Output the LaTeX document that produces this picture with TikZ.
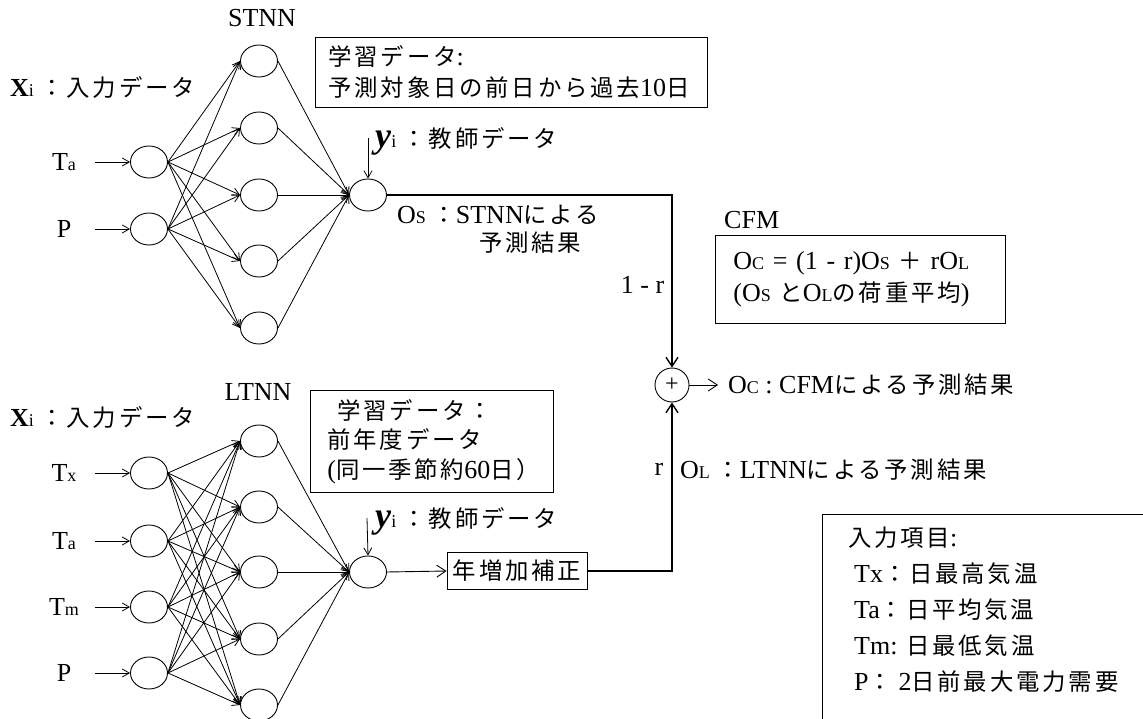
\documentclass[tikz,border=0pt]{standalone}
\usepackage{fontspec}
\setmainfont{Liberation Serif}
\newfontfamily\jp{Noto Sans CJK JP}[Scale=0.9, LetterSpace=12]
\usetikzlibrary{shapes.geometric,arrows.meta}
\newcommand{\J}[1]{{\jp #1}}
\newcommand{\smtxt}[1]{{\fontsize{18}{18}\selectfont #1}}

\tikzset{
  neuron/.style={draw, ellipse, minimum width=37pt, minimum height=32pt, inner sep=0pt, line width=0.9pt},
  sumnode/.style={draw, circle, minimum size=34pt, inner sep=0pt, line width=0.9pt},
  syn/.style={line width=0.8pt, -{Straight Barb[length=7pt,width=8pt]}},
  bigtip/.style={-{Straight Barb[length=9pt,width=12pt]}},
  flow/.style={line width=1.4pt},
  txtbox/.style={draw, line width=0.9pt, align=left, anchor=north west},
  inlbl/.style={minimum width=34pt},
}

\begin{document}
\begin{tikzpicture}[x=1pt, y=-1pt, every node/.style={font=\fontsize{26}{30}\selectfont, inner sep=2pt}]
    \useasboundingbox (0,0) rectangle (1143,719);
    \clip (0,0) rectangle (1143,719);

    % 短期モデル STNN
    \node (stnn) at (262,18) {STNN};
    \node[anchor=west] (sx) at (8,88) {\textbf{X}\smtxt{i} \J{：入力データ}};
    \node[txtbox, minimum width=392pt, minimum height=70pt, inner xsep=13pt, text width=366pt,
          font=\fontsize{26}{31}\selectfont] (sbox) at (315,37)
          {\J{学習データ}:\\\J{予測対象日の前日から過去}10\J{日}};

    \foreach \n/\t/\y in {1/{T\smtxt{a}}/162, 2/P/229} {
        \node[neuron] (si\n) at (149,\y) {};
        \node[inlbl] (sl\n) at (64,\y) {\t};
        \draw[syn, shorten <=14pt] (sl\n.east) -- (si\n.west);
    }
    \foreach \k/\y in {1/61, 2/128, 3/195, 4/261, 5/328}
        \node[neuron] (sh\k) at (259,\y) {};
    \node[neuron] (so) at (368,195) {};
    \foreach \n in {1,2}
        \foreach \k in {1,...,5}
            \draw[syn] (si\n.east) -- (sh\k.west);
    \foreach \k in {1,...,5}
        \draw[syn] (sh\k.east) -- (so.west);

    % 教師データ
    \coordinate (sy) at (368,138);
    \draw[syn] (sy) -- (so.north);
    \node[anchor=west] (syl) at (373,141) {\textbf{\textit{\fontsize{36}{36}\selectfont y}}\smtxt{i} \J{：教師データ}};
    \node[anchor=west, align=left, font=\fontsize{26}{28}\selectfont] (sos) at (395,229)
          {O\smtxt{S} \J{：}STNN\J{による}\\\hspace*{82pt}\J{予測結果}};

    % CFM
    \node[sumnode] (plus) at (672,385) {\fontsize{24}{24}\selectfont +};
    \draw[flow, bigtip] (so.east) -| (plus.north) node[pos=0.76, anchor=east, inner xsep=7pt] (w1) {1 - r};
    \node[anchor=west] (cfm) at (722,220) {CFM};
    \node[txtbox, minimum width=290pt, minimum height=88pt, inner xsep=18pt, text width=254pt,
          font=\fontsize{26}{32}\selectfont] (cbox) at (715,235)
          {O\smtxt{C} = (1 - r)O\smtxt{S} \J{＋} rO\smtxt{L}\\(O\smtxt{S} \J{と}O\smtxt{L}\J{の荷重平均})};
    \node[anchor=west, inner xsep=0pt] (oc) at (728,385) {O\smtxt{C} : CFM\J{による予測結果}};
    \draw[line width=0.9pt, bigtip, shorten >=10pt] (plus.east) -- (oc.west);

    % 長期モデル LTNN
    \node (ltnn) at (258,392) {LTNN};
    \node[anchor=west] (lx) at (8,418) {\textbf{X}\smtxt{i} \J{：入力データ}};
    \node[txtbox, minimum width=243pt, minimum height=102pt, inner xsep=17pt, text width=209pt,
          font=\fontsize{26}{29.5}\selectfont] (lbox) at (310,390)
          {\hspace*{10pt}\J{学習データ：}\\\J{前年度データ}\\(\J{同一季節約}60\J{日）}};

    \foreach \n/\t/\y in {1/{T\smtxt{x}}/473, 2/{T\smtxt{a}}/541, 3/{T\smtxt{m}}/607, 4/P/673} {
        \node[neuron] (li\n) at (149,\y) {};
        \node[inlbl] (ll\n) at (64,\y) {\t};
        \draw[syn, shorten <=14pt] (ll\n.east) -- (li\n.west);
    }
    \foreach \k/\y in {1/441, 2/507, 3/572, 4/639, 5/705}
        \node[neuron] (lh\k) at (259,\y) {};
    \node[neuron] (lo) at (368,572) {};
    \foreach \n in {1,...,4}
        \foreach \k in {1,...,5}
            \draw[syn] (li\n.east) -- (lh\k.west);
    \foreach \k in {1,...,5}
        \draw[syn] (lh\k.east) -- (lo.west);

    \coordinate (ly) at (367,518);
    \draw[syn] (ly) -- (lo.north);
    \node[anchor=west] (lyl) at (373,521) {\textbf{\textit{\fontsize{36}{36}\selectfont y}}\smtxt{i} \J{：教師データ}};

    % 年増加補正
    \node[draw, line width=0.9pt, minimum width=140pt, minimum height=37pt] (nb) at (517,571) {\J{年増加補正}};
    \draw[line width=0.9pt, bigtip] (lo.east) -- (nb.west);
    \draw[flow, bigtip] (nb.east) -| (plus.south) node[pos=0.8, anchor=east, inner xsep=8pt] (w2) {r};
    \node[anchor=west] (ol) at (678,470) {O\smtxt{L} \J{：}LTNN\J{による予測結果}};

    % 入力項目
    \node[draw, line width=0.9pt, anchor=north west, minimum width=400pt, minimum height=300pt] (legf) at (822,514) {};
    \node[anchor=north west, align=left, font=\fontsize{26}{36}\selectfont] (legt) at (846,525)
          {\J{入力項目}:\\
           \hspace*{6pt}Tx\J{：日最高気温}\\
           \hspace*{6pt}Ta\J{：日平均気温}\\
           \hspace*{6pt}Tm: \J{日最低気温}\\
           \hspace*{6pt}P\J{：} 2\J{日前最大電力需要}};
\end{tikzpicture}
\end{document}
